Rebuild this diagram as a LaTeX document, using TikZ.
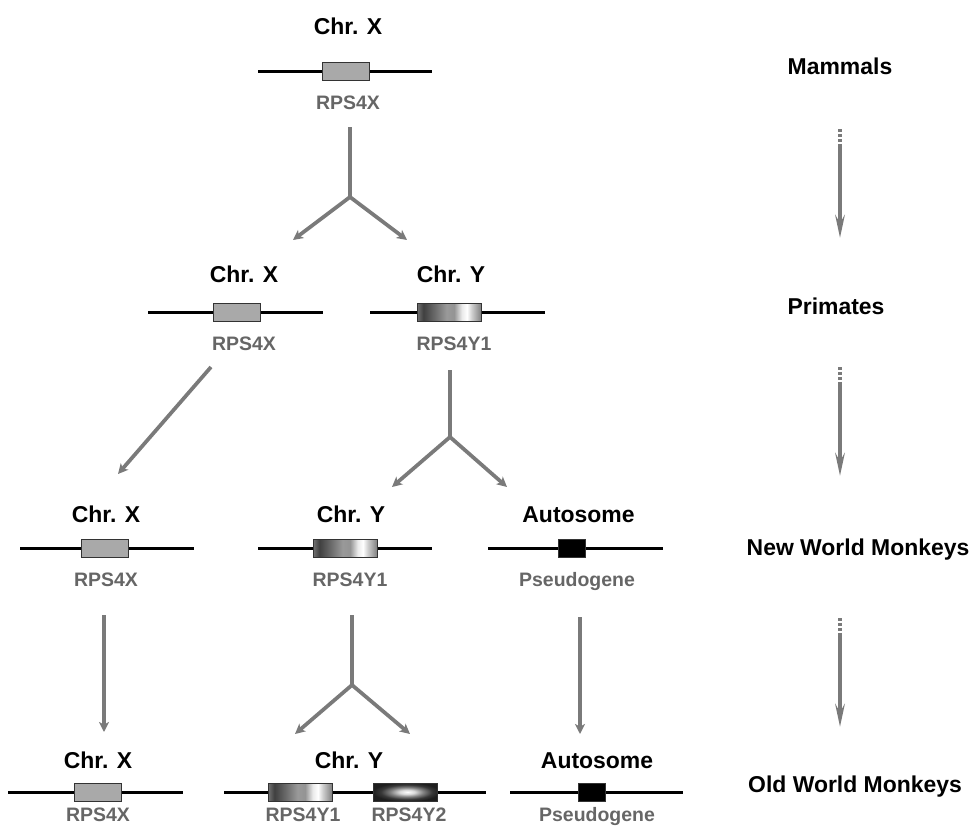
\documentclass[tikz,border=0pt]{standalone}
\usepackage{fontspec}
\setmainfont{Liberation Sans}
\usetikzlibrary{arrows.meta}

% metallic banding of the RPS4Y1 copy
\pgfdeclarehorizontalshading{yonebar}{100bp}{%
  color(0bp)=(black!55); color(25bp)=(black!55); color(30bp)=(black!75);
  color(38bp)=(black!60); color(48bp)=(black!40); color(54bp)=(black!42);
  color(60bp)=(black!8); color(64bp)=(white); color(68bp)=(black!20);
  color(75bp)=(black!50); color(100bp)=(black!50)}
% dark copy with a bright core (RPS4Y2)
\pgfdeclareradialshading{ytwobar}{\pgfpoint{2bp}{0bp}}{%
  color(0bp)=(white); color(6bp)=(black!15); color(13bp)=(black!50);
  color(20bp)=(black!78); color(26bp)=(black!88); color(50bp)=(black!90)}

\definecolor{arrowgray}{HTML}{7A7A7A}
\definecolor{genegray}{HTML}{A9A9A9}
\definecolor{labelgray}{HTML}{666666}

\tikzset{
  chrom/.style={line width=2.25pt, black},
  genebox/.style={draw=black!80, line width=0.7pt, minimum height=13.5pt, inner sep=0pt},
  xgene/.style={genebox, fill=genegray, minimum width=35.25pt},
  ygene/.style={genebox, shading=yonebar, minimum width=48pt},
  y2gene/.style={genebox, shading=ytwobar, minimum width=48pt},
  pgene/.style={genebox, fill=black, minimum width=20.25pt},
  chrlabel/.style={anchor=base, font=\bfseries\fontsize{17.2}{18}\selectfont, inner sep=0pt},
  genelabel/.style={anchor=base, font=\bfseries\fontsize{14.6}{16}\selectfont, text=labelgray, inner sep=0pt},
  stage/.style={anchor=base, font=\bfseries\fontsize{17.2}{18}\selectfont, inner sep=0pt},
  evo/.style={draw=arrowgray, line width=2.8pt, -{Stealth[length=7.5pt, width=7.5pt, inset=2pt]}},
  evostem/.style={draw=arrowgray, line width=2.8pt},
  timeline/.style={draw=arrowgray, line width=3pt, -{Stealth[length=17pt, width=7pt, inset=6pt]}},
  timedots/.style={draw=arrowgray, line width=3pt, dash pattern=on 2.5pt off 1.2pt},
}

\begin{document}
\begin{tikzpicture}[x=0.75pt, y=-0.75pt]
\useasboundingbox (0,0) rectangle (972,828);

% ---------- Mammals ----------
\draw[chrom] (258,71) -- (432,71);
\node[xgene] (mx) at (345.5,71) {};
\node[chrlabel] (mxc) at (348,35) {Chr. X};
\node[genelabel] (mxg) at (348,109) {RPS4X};

% ---------- Primates ----------
\draw[chrom] (148,312) -- (323,312);
\node[xgene] (px) at (237,312) {};
\node[chrlabel] (pxc) at (244,282) {Chr. X};
\node[genelabel] (pxg) at (244,350) {RPS4X};

\draw[chrom] (370,312) -- (545,312);
\node[ygene] (py) at (449,312) {};
\node[chrlabel] (pyc) at (451,282) {Chr. Y};
\node[genelabel] (pyg) at (454,350) {RPS4Y1};

% ---------- New World Monkeys ----------
\draw[chrom] (20,548) -- (194,548);
\node[xgene] (nx) at (104.5,548) {};
\node[chrlabel] (nxc) at (106,522) {Chr. X};
\node[genelabel] (nxg) at (106,586) {RPS4X};

\draw[chrom] (258,548) -- (432,548);
\node[ygene] (ny) at (345,548) {};
\node[chrlabel] (nyc) at (351,522) {Chr. Y};
\node[genelabel] (nyg) at (350,586) {RPS4Y1};

\draw[chrom] (488,548) -- (663,548);
\node[pgene] (na) at (571.5,548) {};
\node[chrlabel] (nac) at (578.5,522) {Autosome};
\node[genelabel] (nag) at (577,586) {Pseudogene};

% ---------- Old World Monkeys ----------
\draw[chrom] (8,792) -- (183,792);
\node[xgene] (ox) at (97.5,792) {};
\node[chrlabel] (oxc) at (98,768) {Chr. X};
\node[genelabel] (oxg) at (98,821) {RPS4X};

\draw[chrom] (224,792) -- (486,792);
\node[ygene] (oy1) at (300,792) {};
\node[y2gene] (oy2) at (405,792) {};
\node[chrlabel] (oyc) at (349,768) {Chr. Y};
\node[genelabel] (oy1g) at (303,821) {RPS4Y1};
\node[genelabel] (oy2g) at (409,821) {RPS4Y2};

\draw[chrom] (510,792) -- (683,792);
\node[pgene] (oa) at (591.5,792) {};
\node[chrlabel] (oac) at (597,768) {Autosome};
\node[genelabel] (oag) at (597,821) {Pseudogene};

% ---------- lineage stages ----------
\node[stage] (s1) at (840,74) {Mammals};
\node[stage] (s2) at (836,314) {Primates};
\node[stage] (s3) at (858,555) {New World Monkeys};
\node[stage] (s4) at (855,792) {Old World Monkeys};

% ---------- descent arrows ----------
\coordinate (f1top) at (350,127);
\coordinate (f1) at (350,197);
\coordinate (f1l) at (293,240);
\coordinate (f1r) at (407,240);
\draw[evostem] (f1top) -- (f1);
\draw[evo] (f1) -- (f1l);
\draw[evo] (f1) -- (f1r);

\coordinate (f2top) at (450,370);
\coordinate (f2) at (450,437);
\coordinate (f2l) at (392,487);
\coordinate (f2r) at (507,487);
\draw[evostem] (f2top) -- (f2);
\draw[evo] (f2) -- (f2l);
\draw[evo] (f2) -- (f2r);

\coordinate (f3top) at (352,615);
\coordinate (f3) at (352,685);
\coordinate (f3l) at (295,734);
\coordinate (f3r) at (410,734);
\draw[evostem] (f3top) -- (f3);
\draw[evo] (f3) -- (f3l);
\draw[evo] (f3) -- (f3r);

\coordinate (dxa) at (211,367);
\coordinate (dxb) at (118,474);
\draw[evo] (dxa) -- (dxb);

\coordinate (vxa) at (104,615);
\coordinate (vxb) at (104,732);
\draw[evo] (vxa) -- (vxb);

\coordinate (vpa) at (580,617);
\coordinate (vpb) at (580,734);
\draw[evo] (vpa) -- (vpb);

% ---------- time arrows ----------
\draw[timedots] (840,129) -- (840,146);
\draw[timeline] (840,146) -- (840,238);
\draw[timedots] (840,367) -- (840,384);
\draw[timeline] (840,384) -- (840,476);
\draw[timedots] (840,618) -- (840,635);
\draw[timeline] (840,635) -- (840,727);
\end{tikzpicture}
\end{document}
